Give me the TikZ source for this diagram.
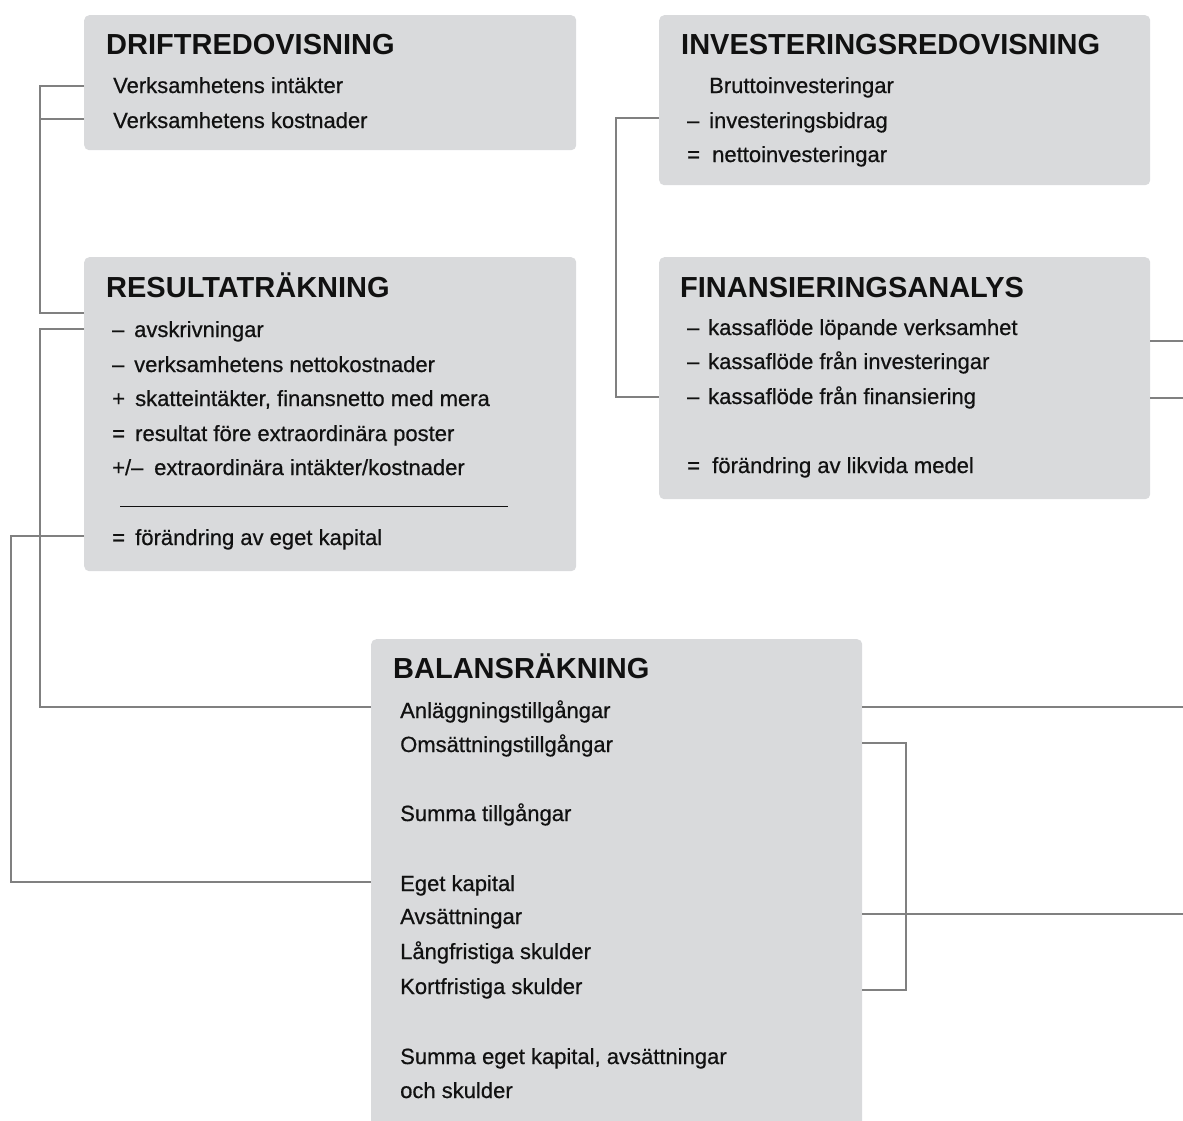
\documentclass[tikz,border=0pt]{standalone}
\usepackage{fontspec}
\setmainfont{Liberation Sans}
\newfontfamily\itemfont[FakeBold=0.6]{Liberation Sans}
\definecolor{boxgray}{RGB}{217,218,220}
\definecolor{linegray}{RGB}{128,128,128}
\definecolor{txt}{RGB}{17,17,17}
\begin{document}
\begin{tikzpicture}[x=1pt,y=-1pt,
  box/.style={fill=boxgray, draw=none, rounded corners=5pt, inner sep=0pt, anchor=north west},
  head/.style={anchor=base west, inner sep=0pt, text=txt, font=\fontsize{29}{31}\selectfont\bfseries},
  item/.style={anchor=base west, inner sep=0pt, text=txt, font=\fontsize{22}{24}\selectfont\itemfont},
  conn/.style={draw=linegray, line width=1.2pt},
  rulel/.style={draw=txt, line width=1pt}]

\clip (0,0) rectangle (1183,1120);

% boxes
\node[box, minimum width=492pt, minimum height=135pt] (drift)  at (84,15)  {};
\node[box, minimum width=491pt, minimum height=170pt] (invest) at (659,15) {};
\node[box, minimum width=492pt, minimum height=314pt] (result) at (84,257) {};
\node[box, minimum width=491pt, minimum height=242pt] (finans) at (659,257) {};
\node[box, minimum width=491pt, minimum height=520pt] (balans) at (371,639) {};

% DRIFTREDOVISNING
\node[head] (dH) at (106,54) {DRIFTREDOVISNING};
\node[item] (d1) at (113,93)  {Verksamhetens intäkter};
\node[item] (d2) at (113,128) {Verksamhetens kostnader};

% INVESTERINGSREDOVISNING
\node[head] (iH) at (681,54) {INVESTERINGSREDOVISNING};
\node[item] (i1) at (709,93) {Bruttoinvesteringar};
\node[item] (i2s) at (687,128) {–};
\node[item] (i2) at (709,128) {investeringsbidrag};
\node[item] (i3s) at (687,162) {=};
\node[item] (i3) at (712,162) {nettoinvesteringar};

% RESULTATRÄKNING
\node[head] (rH) at (106,297) {RESULTATRÄKNING};
\node[item] (r1s) at (112,337) {–};
\node[item] (r1) at (134,337) {avskrivningar};
\node[item] (r2s) at (112,372) {–};
\node[item] (r2) at (134,372) {verksamhetens nettokostnader};
\node[item] (r3s) at (112,406) {+};
\node[item] (r3) at (135,406) {skatteintäkter, finansnetto med mera};
\node[item] (r4s) at (112,441) {=};
\node[item] (r4) at (135,441) {resultat före extraordinära poster};
\node[item] (r5s) at (112,475) {+/–};
\node[item] (r5) at (154,475) {extraordinära intäkter/kostnader};
\coordinate (rl1) at (120,506);
\coordinate (rl2) at (508,506);
\draw[rulel] (rl1) -- (rl2);
\node[item] (r6s) at (112,545) {=};
\node[item] (r6) at (135,545) {förändring av eget kapital};

% FINANSIERINGSANALYS
\node[head] (fH) at (680,297) {FINANSIERINGSANALYS};
\node[item] (f1s) at (687,335) {–};
\node[item] (f1) at (708,335) {kassaflöde löpande verksamhet};
\node[item] (f2s) at (687,369) {–};
\node[item] (f2) at (708,369) {kassaflöde från investeringar};
\node[item] (f3s) at (687,404) {–};
\node[item] (f3) at (708,404) {kassaflöde från finansiering};
\node[item] (f4s) at (687,473) {=};
\node[item] (f4) at (712,473) {förändring av likvida medel};

% BALANSRÄKNING
\node[head] (bH) at (393,678) {BALANSRÄKNING};
\node[item] (b1) at (400,718)  {Anläggningstillgångar};
\node[item] (b2) at (400,752)  {Omsättningstillgångar};
\node[item] (b3) at (400,821)  {Summa tillgångar};
\node[item] (b4) at (400,891)  {Eget kapital};
\node[item] (b5) at (400,924)  {Avsättningar};
\node[item] (b6) at (400,959)  {Långfristiga skulder};
\node[item] (b7) at (400,994)  {Kortfristiga skulder};
\node[item] (b8) at (400,1064) {Summa eget kapital, avsättningar};
\node[item] (b9) at (400,1098) {och skulder};

% connectors
\coordinate (a1) at (40,86);
\coordinate (a2) at (40,119);
\coordinate (a3) at (40,313);
\draw[conn] (drift.west |- a1) -- (a1) -- (a3) -- (result.west |- a3);
\draw[conn] (drift.west |- a2) -- (a2);

\coordinate (k1) at (40,329);
\coordinate (k2) at (40,707);
\draw[conn] (result.west |- k1) -- (k1) -- (k2) -- (balans.west |- k2);

\coordinate (c1) at (11,536);
\coordinate (c2) at (11,882);
\draw[conn] (result.west |- c1) -- (c1) -- (c2) -- (balans.west |- c2);

\coordinate (e1) at (616,118);
\coordinate (e2) at (616,397);
\draw[conn] (invest.west |- e1) -- (e1) -- (e2) -- (finans.west |- e2);

\coordinate (g1) at (1184,341);
\coordinate (g2) at (1184,398);
\draw[conn] (finans.east |- g1) -- (g1);
\draw[conn] (finans.east |- g2) -- (g2);

\coordinate (h1) at (1184,707);
\coordinate (h2) at (1184,914);
\draw[conn] (balans.east |- h1) -- (h1);
\draw[conn] (balans.east |- h2) -- (h2);

\coordinate (m1) at (906,743);
\coordinate (m2) at (906,990);
\draw[conn] (balans.east |- m1) -- (m1) -- (m2) -- (balans.east |- m2);
\end{tikzpicture}
\end{document}
